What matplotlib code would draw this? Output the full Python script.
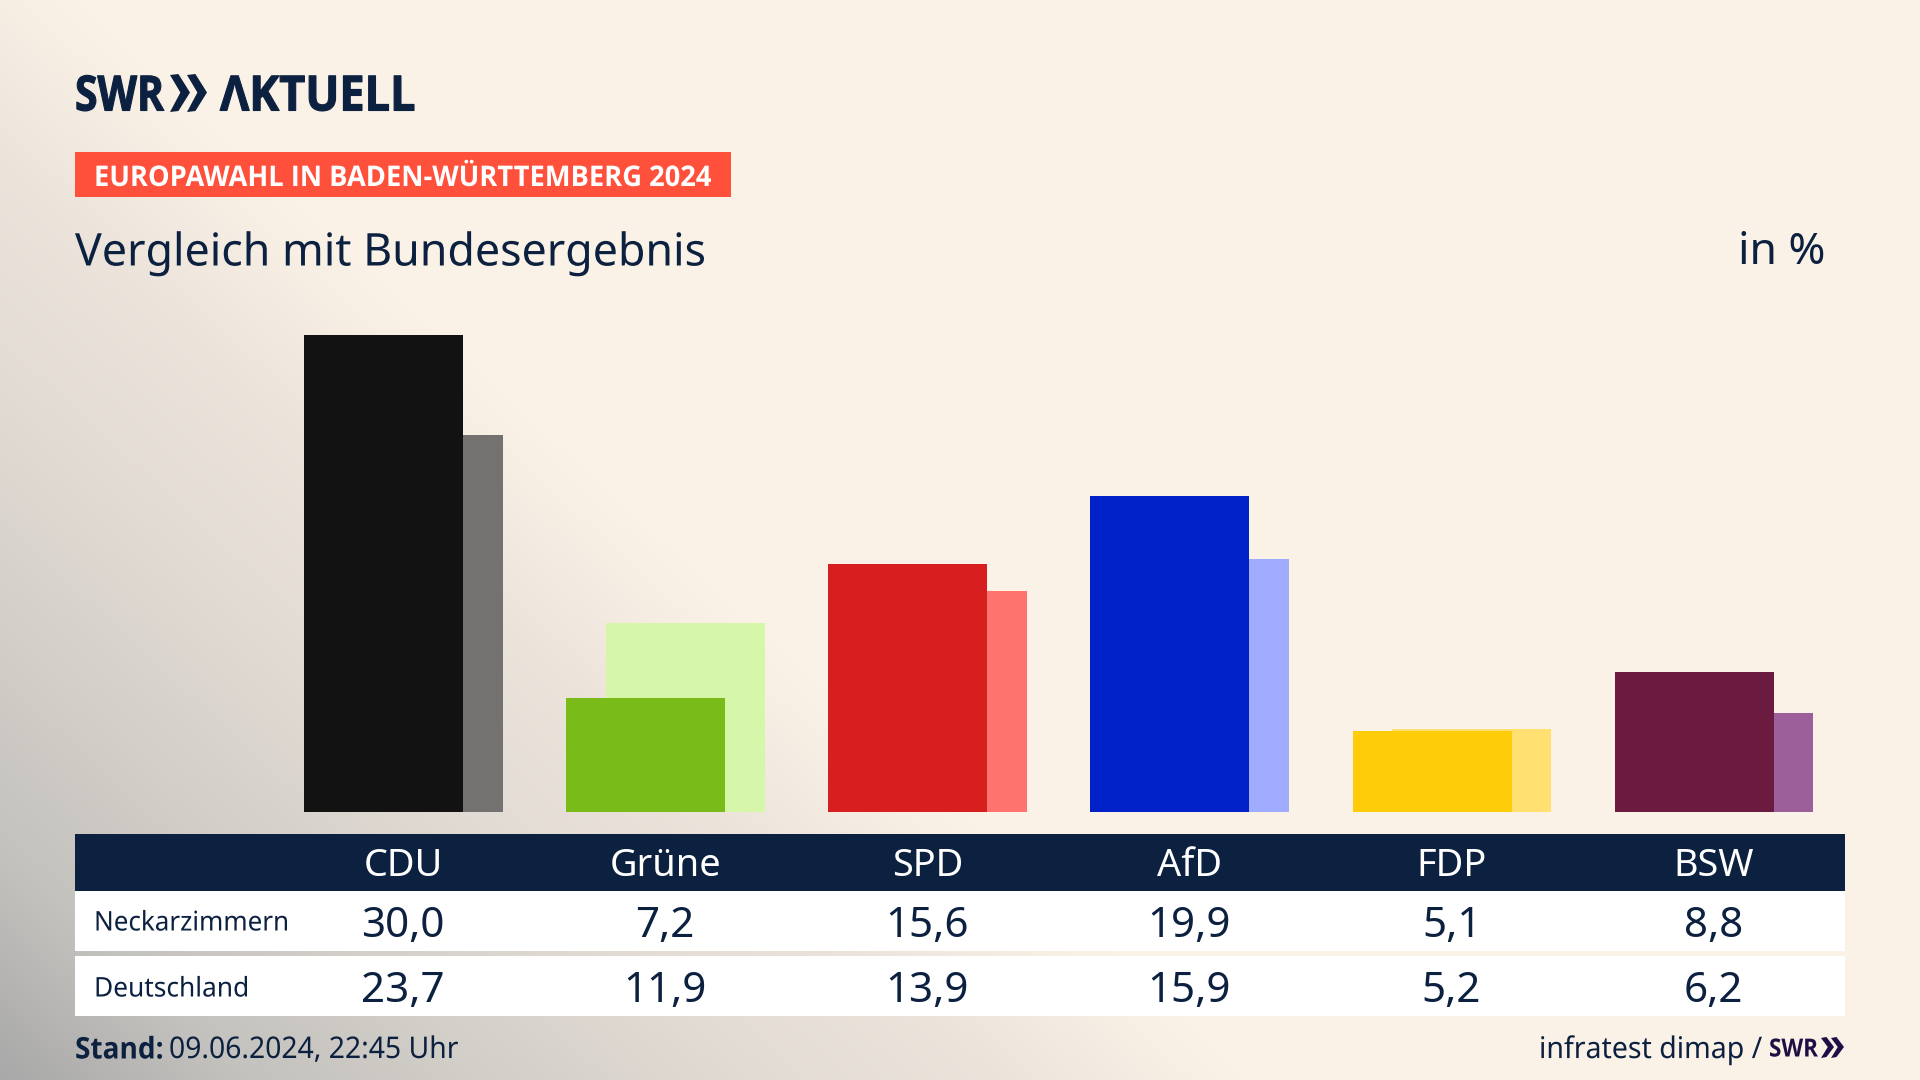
import numpy as np
import matplotlib
matplotlib.use("Agg")
import matplotlib.pyplot as plt
from matplotlib.patches import Rectangle, Polygon
from matplotlib.patheffects import AbstractPathEffect, Stroke, Normal
from matplotlib.textpath import TextPath
from matplotlib.font_manager import FontProperties
from matplotlib.transforms import Affine2D

parties = ["CDU", "Grüne", "SPD", "AfD", "FDP", "BSW"]
local_values = [30.0, 7.2, 15.6, 19.9, 5.1, 8.8]
national_values = [23.7, 11.9, 13.9, 15.9, 5.2, 6.2]
local_colors = ["#121212", "#79BC1A", "#D81F1F", "#0020C8", "#FFCC0A", "#6B1A40"]
national_colors = ["#737270", "#D6F6A9", "#FF736E", "#9FACFF", "#FFE070", "#9C5F99"]
row_labels = ["Neckarzimmern", "Deutschland"]

NAVY = "#0C2040"
FONT = "Noto Sans"
BOLD = "Open Sans"
W, H = 1920, 1080
fig = plt.figure(figsize=(W / 100, H / 100), dpi=100)

# background: diagonal gradient from the bottom-left corner
bg = fig.add_axes([0, 0, 1, 1], zorder=0)
yy, xx = np.mgrid[0:H, 0:W]
s = xx / 1250.0 + (H - yy) / 1150.0
stops = [0, 0.2, 0.4, 0.6, 0.8, 1.0]
cols = np.array([[0xA8, 0xA8, 0xA8], [0xC4, 0xC2, 0xBE], [0xD3, 0xCF, 0xC9],
                 [0xE2, 0xDB, 0xD4], [0xEC, 0xE4, 0xDB], [0xFB, 0xF2, 0xE7]]) / 255
img = np.dstack([np.interp(s, stops, cols[:, k]) for k in range(3)])
bg.imshow(img, extent=[0, W, H, 0], aspect="auto")
bg.set_xlim(0, W); bg.set_ylim(H, 0); bg.axis("off")

# bars
step, x0 = 262.15, 403.0
px_unit = 15.9
ax_top, ax_bot = 300, 812
ax = fig.add_axes([0, 1 - ax_bot / H, 1, (ax_bot - ax_top) / H], zorder=1)
ax.patch.set_alpha(0)
ax.set_xlim(-x0 / step, (W - x0) / step)
ax.set_ylim(0, (ax_bot - ax_top) / px_unit)
ax.axis("off")
idx = np.arange(len(parties))
bw = 159 / step
ax.bar(idx - 59.5 / step + bw / 2, national_values, width=bw, color=national_colors, linewidth=0)
ax.bar(idx - 99 / step + bw / 2, local_values, width=bw, color=local_colors, linewidth=0)

# overlay in pixel coordinates
ov = fig.add_axes([0, 0, 1, 1], zorder=2)
ov.patch.set_alpha(0)
ov.set_xlim(0, W); ov.set_ylim(H, 0); ov.axis("off")


class Condense(AbstractPathEffect):
    """Draw a text horizontally scaled about its left origin."""
    def __init__(self, sx, lw=0.0):
        super().__init__()
        self.sx = sx
        self.lw = lw

    def draw_path(self, renderer, gc, tpath, affine, rgbFace=None):
        gc0 = renderer.new_gc()
        gc0.copy_properties(gc)
        if self.lw:
            gc0.set_linewidth(self.lw)
            gc0.set_foreground(rgbFace)
        renderer.draw_path(gc0, tpath, Affine2D().scale(self.sx, 1) + affine, rgbFace)
        gc0.restore()


def rect(x1, y1, x2, y2, c):
    ov.add_patch(Rectangle((x1, y1), x2 - x1, y2 - y1, color=c, lw=0))


def text(x, y, s, size, c=NAVY, ha="left", weight="normal", family=FONT, fit=None, lw=0.0):
    t = ov.text(x, y, s, fontsize=size, color=c, ha=ha, va="center_baseline",
                fontweight=weight, family=family)
    if fit is not None:
        fp = FontProperties(family=family, weight=weight)
        ext = TextPath((0, 0), s, size=size * 100 / 72, prop=fp).get_extents()
        t.set_path_effects([Condense(fit / ext.x1, lw)])
    return t


def chevrons(x, y1, y2, w, gap, c):
    ym = (y1 + y2) / 2
    for k in range(2):
        xs = x + k * gap
        ov.add_patch(Polygon([(xs, y1 + 1), (xs + w * 0.42, y1), (xs + w, ym), (xs + w * 0.42, y2),
                              (xs, y2 + 1), (xs + w * 0.52, ym)],
                             closed=True, color=c, lw=0))


# logo
text(75, 92, "SWR", 35, weight="bold", family=BOLD, fit=89, lw=0.8)
chevrons(170, 74, 111, 20, 17, NAVY)
text(220, 92, "ΛKTUELL", 35, weight="bold", family=BOLD, fit=194, lw=0.8)

# banner and title
rect(75, 152, 731, 197, "#FF503C")
text(94, 175, "EUROPAWAHL IN BADEN-WÜRTTEMBERG 2024", 20.5, c="white", weight="bold",
     family=BOLD, fit=617)
text(75, 248, "Vergleich mit Bundesergebnis", 32.5, fit=629)
text(1825, 248, "in %", 32, ha="right")

# table
rect(75, 834, 1845, 891, NAVY)
rect(75, 891, 1845, 951, "white")
rect(75, 956, 1845, 1016, "white")
ys = [921, 986]
for i, p in enumerate(parties):
    cx = x0 + i * step
    text(cx, 862, p, 27.3, c="white", ha="center")
    for y, vals in zip(ys, (local_values, national_values)):
        text(cx, y, f"{vals[i]:.1f}".replace(".", ","), 30.3, ha="center")
text(94, 920, row_labels[0], 19.5, fit=193)
text(94, 986, row_labels[1], 19.5, fit=153)

# footer
text(75, 1047, "Stand:", 21.5, weight="bold", family=BOLD, fit=87)
text(169, 1047, "09.06.2024, 22:45 Uhr", 21.5, fit=289)
text(1539, 1047, "infratest dimap /", 21.5, fit=223)
text(1769, 1047, "SWR", 18, c="#1E1045", weight="bold", family=BOLD, fit=49)
chevrons(1821, 1037, 1057, 13, 10, "#1E1045")

fig.savefig("out.png", dpi=100)
